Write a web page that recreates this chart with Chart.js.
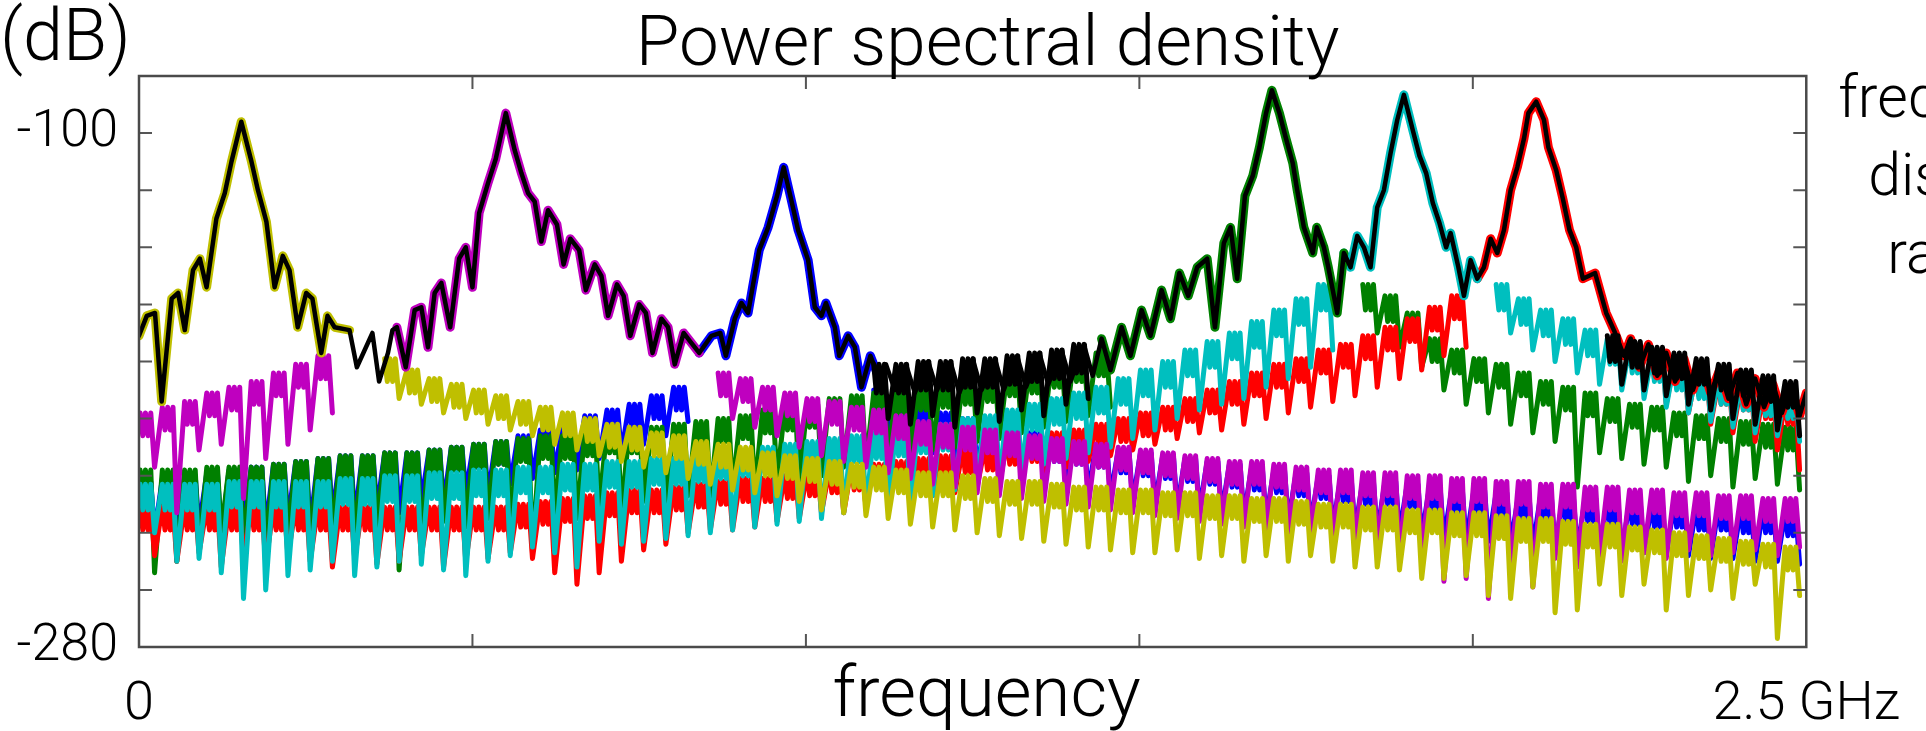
<!DOCTYPE html>
<html><head><meta charset="utf-8">
<script src="https://cdn.jsdelivr.net/npm/chart.js@4.4.1/dist/chart.umd.min.js"></script>
<style>html,body{margin:0;padding:0;background:#fff;overflow:hidden}canvas{display:block}</style>
</head><body>
<canvas id="c" width="1926" height="731"></canvas>
<script>
// ---- axis / labels ----
const X_MIN = 0, X_MAX = 75, X_STEP = 15;          // frequency bins (75 bins = 2.5 GHz)
const Y_MIN = -280, Y_MAX = -80, Y_STEP = 20;      // dB
const xTickText = {0: '0', 75: '2.5 GHz'};
const yTickText = {'-100': '-100', '-280': '-280'};
const titleText = 'Power spectral density';
const unitText = '(dB)';
const xTitleText = 'frequency';
const sideText = ['frequency', 'distance', 'range'];

// ---- peak parts of each channel: [bin, dB] (black total PSD drawn over them) ----
const yellowPeak = [[0.0,-171],[0.35,-164],[0.72,-163],[1.02,-194],[1.47,-158],[1.76,-156],[2.06,-169],[2.43,-148],[2.74,-144],[3.04,-154],[3.48,-130],[3.86,-121],[4.16,-110],[4.6,-96],[5.06,-110],[5.35,-120],[5.73,-131],[6.1,-154],[6.47,-143],[6.77,-148],[7.14,-168],[7.52,-156],[7.8,-158],[8.2,-177],[8.48,-164],[8.8,-168],[9.47,-169]];
const valleyYM = [[9.8,-182],[10.5,-170],[10.8,-187],[11.2,-177],[11.4,-169]];
const magentaPeak = [[11.6,-168],[12.0,-182],[12.4,-162],[12.7,-161],[13.0,-175],[13.3,-156],[13.6,-152.5],[14.0,-168],[14.4,-144],[14.7,-140],[15.0,-154],[15.3,-128],[15.7,-117.5],[16.05,-109],[16.5,-93],[16.9,-106],[17.2,-114],[17.5,-121],[17.8,-124],[18.1,-138],[18.4,-127],[18.8,-132],[19.1,-146],[19.4,-137],[19.8,-141],[20.1,-155],[20.5,-146],[20.8,-150],[21.1,-164],[21.5,-153],[21.8,-157],[22.1,-171],[22.5,-160],[22.8,-163],[23.1,-177],[23.5,-165],[23.8,-168],[24.1,-181],[24.5,-170],[24.8,-173],[25.2,-177]];
const bluePeak = [[25.2,-177],[25.75,-171],[26.15,-170],[26.4,-178],[26.8,-165],[27.1,-159.5],[27.4,-163],[27.6,-154],[27.9,-141],[28.3,-133],[28.7,-122],[29.0,-112],[29.3,-122],[29.65,-134],[30.1,-144.5],[30.4,-161],[30.7,-164],[30.9,-159.5],[31.3,-168],[31.5,-178],[31.9,-171],[32.2,-175],[32.5,-189],[32.9,-178],[33.3,-186]];
const blackMid = [[33.6,-181],[34.0,-190],[34.5,-181],[34.9,-191],[35.5,-180],[35.9,-190],[36.5,-180],[36.9,-191],[37.5,-179],[37.9,-190],[38.5,-179],[38.9,-190],[39.5,-178],[39.9,-189],[40.5,-177],[40.9,-188],[41.5,-176],[41.9,-187],[42.5,-174],[42.9,-185]];
const greenPeak = [[43.3,-172],[43.7,-183],[44.2,-168],[44.6,-178],[45.1,-162],[45.5,-171],[46.0,-155],[46.4,-165],[46.8,-149],[47.2,-157],[47.6,-147],[48.05,-144],[48.4,-168],[48.8,-138.5],[49.1,-133],[49.4,-151],[49.75,-122],[50.1,-115],[50.4,-105],[50.7,-93],[50.96,-85],[51.3,-93],[51.6,-102],[51.9,-110.5],[52.1,-120],[52.4,-133],[52.8,-142],[52.98,-133],[53.3,-140],[53.5,-147],[53.9,-163],[54.2,-142]];
const cyanPeak = [[54.2,-142],[54.5,-147],[54.8,-136],[55.1,-140],[55.4,-147],[55.7,-126],[56.0,-120],[56.3,-107],[56.6,-95.4],[56.9,-86.6],[57.3,-99],[57.6,-108],[57.9,-114],[58.2,-124.5],[58.5,-131.5],[58.8,-140],[59.0,-135],[59.35,-147],[59.6,-157],[59.9,-144.5],[60.2,-151]];
const redPeak = [[60.2,-151],[60.5,-147],[60.8,-137],[61.1,-142],[61.4,-134],[61.7,-120],[62.0,-112],[62.3,-102],[62.5,-93],[62.85,-89],[63.2,-95.4],[63.4,-105],[63.75,-113],[64.05,-123],[64.35,-134],[64.65,-140],[64.95,-151],[65.5,-149],[66.0,-163],[66.4,-170]];
const redTail = [[66.8,-178],[67.1,-172],[67.5,-182],[67.9,-174],[68.3,-185],[68.7,-177],[69.1,-187],[69.5,-179],[69.9,-190],[70.3,-181],[70.7,-191],[71.1,-183],[71.5,-193],[71.9,-184],[72.3,-195],[72.7,-186],[73.1,-196],[73.5,-188],[73.9,-198],[74.3,-189],[74.7,-199],[75.0,-191]];

// ---- sidelobe bands, per bin: top level, lower edge of the band, null depth (dB); null = covered by peak part ----
const N11 = [null,null,null,null,null,null,null,null,null,null,null];
const yellowTop = [...N11,
-179,-183,-186,-188,-190,-192,-194,-196,-198,-200,
-202,-203,-205,-206,-208,-209,-210,-212,-213,-214,
-215,-216,-217,-218,-219,-219,-220,-221,-222,-222,
-223,-224,-224,-225,-225,-226,-226,-227,-227,-228,
-228,-229,-230,-230,-231,-231,-232,-232,-233,-233,
-234,-235,-235,-236,-237,-237,-238,-239,-240,-241,
-242,-243,-244,-245];
const yellowLow = [...N11,
-187,-191,-194,-196,-198,-200,-202,-204,-206,-208,
-210,-211,-213,-214,-216,-217,-218,-220,-221,-222,
-223,-224,-225,-226,-227,-227,-228,-229,-230,-230,
-231,-232,-232,-233,-233,-234,-234,-235,-235,-236,
-236,-237,-238,-238,-239,-239,-240,-240,-241,-241,
-242,-243,-243,-244,-245,-245,-246,-247,-248,-249,
-250,-251,-252,-253];
const yellowDip = [...N11,
-193,-195,-198,-200,-202,-204,-206,-209,-211,-213,
-215,-217,-219,-221,-223,-225,-226,-227,-229,-232,
-233,-234,-235,-237,-238,-239,-240,-241,-242,-243,
-244,-245,-246,-247,-247,-246,-249,-248,-250,-248,
-250,-248,-250,-252,-252,-253,-256,-256,-255,-262,
-263,-259,-268,-267,-258,-262,-258,-267,-262,-260,
-263,-258,-277,-262];
const N17 = [null,null,null,null,null,null,null,null,null,null,null,null,null,null,null,null,null];
const magentaTop = [-198,-196,-194,-191,-189,-187,-184,-181,-178, ...N17,
-184,-186,-189,-191,-193,-194,-196,-197,-199,-201,
-202,-203,-204,-205,-206,-207,-208,-209,-210,-211,
-212,-213,-214,-215,-215,-216,-217,-218,-218,-219,
-219,-220,-220,-221,-221,-222,-222,-223,-223,-224,
-224,-225,-225,-226,-226,-227,-227,-228,-228];
const magentaLow = [-206,-204,-202,-199,-197,-195,-192,-189,-186, ...N17,
-192,-194,-197,-199,-201,-202,-204,-205,-207,-209,
-210,-211,-212,-213,-214,-215,-216,-217,-218,-219,
-220,-221,-222,-223,-223,-224,-225,-226,-226,-227,
-227,-228,-228,-229,-229,-230,-230,-231,-231,-232,
-232,-233,-233,-234,-234,-235,-235,-236,-236];
const magentaDip = [-217,-233,-211,-209,-228,-214,-209,-204,-198, ...N17,
-200,-203,-206,-210,-213,-215,-217,-219,-221,-223,
-224,-226,-227,-228,-229,-230,-231,-232,-233,-234,
-235,-236,-237,-238,-239,-240,-241,-243,-245,-246,
-249,-250,-257,-256,-263,-255,-259,-249,-252,-248,
-250,-247,-249,-246,-248,-247,-246,-248,-245];
const N8 = [null,null,null,null,null,null,null,null];
const blueTop = [-222,-221,-220,-219,-218,-217,-216,-215,-214,-213,
-213,-212,-212,-211,-210,-209,-208,-206,-204,-202,
-199,-197,-195,-192,-189, ...N8,
-190,-193,-196,-198,-200,-202,-204,
-205,-207,-208,-209,-211,-212,-213,-214,-215,-216,
-217,-218,-219,-220,-221,-222,-222,-223,-224,-225,
-225,-226,-227,-227,-228,-228,-229,-229,-230,-230,
-231,-231,-232,-232,-233];
const blueLow = [-230,-229,-228,-227,-226,-225,-224,-223,-222,-221,
-221,-220,-220,-219,-218,-217,-216,-214,-212,-210,
-207,-205,-203,-200,-197, ...N8,
-198,-201,-204,-206,-208,-210,-212,
-213,-215,-216,-217,-219,-220,-221,-222,-223,-224,
-225,-226,-227,-228,-229,-230,-230,-231,-232,-233,
-233,-234,-235,-235,-236,-236,-237,-237,-238,-238,
-239,-239,-240,-240,-241];
const blueDip = [-240,-242,-238,-241,-237,-239,-236,-238,-234,-235,
-232,-233,-229,-230,-226,-227,-223,-221,-219,-218,
-214,-212,-209,-206,-201, ...N8,
-205,-209,-212,-215,-217,-219,-221,
-223,-224,-226,-227,-229,-230,-231,-232,-233,-234,
-235,-236,-237,-238,-239,-240,-240,-241,-242,-243,
-243,-244,-245,-245,-246,-246,-247,-247,-248,-248,
-249,-249,-250,-250,-251];
const greenTop = [-218,-218,-218,-217,-217,-217,-216,-215,-214,-213,
-213,-212,-212,-211,-210,-209,-208,-207,-206,-206,
-205,-204,-204,-203,-202,-201,-200,-199,-197,-196,
-195,-193,-192,-191,-190,-189,-188,-187,-186,-184,
-183,-181,-179,-177, ...N11,
-153,-157,-163,-172,-176,-179,-181,-184,-187,-189,
-191,-193,-195,-196,-198,-199,-200,-201,-202,-203];
const greenLow = [-226,-226,-226,-225,-225,-225,-224,-223,-222,-221,
-221,-220,-220,-219,-218,-217,-216,-215,-214,-214,
-213,-212,-212,-211,-210,-209,-208,-207,-205,-204,
-203,-201,-200,-199,-198,-197,-196,-195,-194,-192,
-191,-189,-187,-185, ...N11,
-162,-166,-172,-180,-184,-187,-189,-192,-195,-197,
-199,-201,-203,-204,-206,-207,-208,-209,-210,-211];
const greenDip = [-254,-250,-246,-240,-243,-245,-241,-244,-240,-242,
-238,-253,-242,-236,-238,-235,-237,-247,-233,-235,
-231,-233,-229,-231,-227,-228,-225,-226,-222,-223,
-220,-217,-216,-214,-213,-211,-210,-208,-207,-205,
-203,-201,-199,-196, ...N11,
-170,-175,-182,-190,-195,-198,-202,-205,-208,-224,
-212,-214,-216,-217,-222,-220,-224,-221,-223,-225];
const N7 = [null,null,null,null,null,null,null];
const cyanTop = [-223,-223,-223,-223,-222,-222,-222,-222,-222,-221,
-221,-220,-220,-219,-219,-218,-218,-217,-217,-216,
-216,-215,-215,-214,-214,-213,-212,-211,-210,-209,
-208,-207,-206,-205,-204,-203,-202,-200,-199,-197,
-195,-193,-191,-189,-186,-183,-180,-176,-173,-170,
-166,-162,-158,-153, ...N7,
-153,-158,-162,-165,-169,-172,-175,-178,-181,-184,-186,-188,-190,-191];
const cyanLow = [-232,-232,-232,-232,-231,-231,-231,-231,-231,-230,
-230,-229,-229,-228,-228,-227,-227,-226,-226,-225,
-225,-224,-224,-223,-223,-222,-221,-220,-219,-218,
-217,-216,-215,-214,-213,-212,-211,-209,-208,-206,
-204,-202,-200,-198,-195,-192,-189,-185,-182,-179,
-175,-171,-167,-162, ...N7,
-162,-167,-171,-174,-178,-181,-184,-187,-190,-193,-195,-197,-199,-200];
const cyanDip = [-240,-250,-249,-254,-263,-260,-255,-253,-250,-255,
-252,-250,-251,-253,-255,-250,-248,-245,-247,-252,
-243,-244,-243,-242,-241,-240,-239,-238,-237,-236,
-235,-233,-232,-230,-229,-227,-225,-223,-221,-219,
-216,-214,-212,-210,-207,-204,-200,-197,-195,-193,
-189,-186,-182,-176, ...N7,
-170,-176,-180,-184,-188,-190,-193,-196,-198,-201,-203,-205,-206,-208];
const redTop = [-231,-231,-231,-231,-231,-231,-231,-231,-231,-231,
-231,-231,-231,-231,-231,-231,-231,-230,-229,-228,
-227,-226,-225,-225,-224,-223,-222,-221,-221,-220,
-219,-218,-217,-216,-215,-214,-213,-211,-210,-208,
-207,-205,-204,-202,-200,-198,-196,-193,-190,-187,
-184,-181,-179,-176,-174,-171,-168,-165,-161,-157, ...N7,
-174,-178,-181,-184,-187,-189,-192,-194];
const redLow = [-239,-239,-239,-239,-239,-239,-239,-239,-239,-239,
-239,-239,-239,-239,-239,-239,-239,-238,-237,-236,
-235,-234,-233,-233,-232,-231,-230,-229,-229,-228,
-227,-226,-225,-224,-223,-222,-221,-219,-218,-216,
-215,-213,-212,-210,-208,-206,-204,-201,-198,-195,
-192,-189,-187,-184,-182,-179,-176,-173,-169,-165, ...N7,
-182,-186,-189,-192,-195,-197,-200,-202];
const redDip = [-248,-250,-247,-252,-249,-251,-248,-250,-252,-249,
-251,-250,-248,-252,-250,-249,-247,-249,-254,-258,
-254,-250,-246,-244,-240,-239,-239,-238,-236,-235,
-233,-233,-231,-230,-229,-227,-226,-224,-223,-221,
-219,-217,-215,-213,-211,-209,-207,-205,-204,-202,
-200,-198,-196,-194,-192,-189,-186,-183,-178,-175, ...N7,
-190,-195,-198,-202,-205,-208,-211,-218];
// dense black (total PSD) ripple regions: bins 33-42 and 66-74
const N33 = Array(33).fill(null), N23 = Array(23).fill(null);
const blackTop = [...N33, -181,-181,-180,-180,-179,-179,-178,-177,-176,-174, ...N23, -171,-173,-175,-177,-179,-181,-183,-185,-187];
const blackLow = [...N33, -191,-191,-190,-190,-189,-189,-188,-187,-186,-184, ...N23, -180,-182,-184,-186,-188,-190,-192,-194,-196];
const blackDip = [...N33, -200,-202,-199,-203,-198,-201,-197,-199,-195,-193, ...N23, -188,-190,-192,-195,-197,-200,-202,-204,-206];

// ---- colours ----
const C = {y:'#bfbf00', m:'#bf00bf', b:'#0000ff', g:'#008000', c:'#00bfbf', r:'#ff0000', k:'#000000'};
const FONT = 'Roboto';

// ---- build datasets ----
const pairs = arr => arr.map(p => ({x: p[0], y: p[1]}));
function band(tops, lows, dips) {
  const pts = [];
  tops.forEach((t, i) => {
    if (t === null) { pts.push({x: i + 0.5, y: null}); return; }
    const l = lows[i];
    pts.push({x: i + 0.05, y: t}, {x: i + 0.17, y: l}, {x: i + 0.29, y: t},
             {x: i + 0.41, y: l}, {x: i + 0.53, y: t}, {x: i + 0.7, y: dips[i]});
  });
  return pts;
}
const common = {pointRadius: 0, tension: 0, fill: false, spanGaps: false, borderJoinStyle: 'round', borderCapStyle: 'round'};
const BW = 5, PW = 9, KW = 4.5;
const datasets = [
  {...common, data: pairs([...yellowPeak, ...valleyYM, ...magentaPeak, ...bluePeak.slice(1), ...blackMid, ...greenPeak, ...cyanPeak.slice(1), ...redPeak.slice(1), ...redTail]), borderColor: C.k, borderWidth: KW, order: 0},
  {...common, data: band(blackTop, blackLow, blackDip), borderColor: C.k, borderWidth: BW, order: 0.5},
  {...common, data: pairs(yellowPeak), borderColor: C.y, borderWidth: PW, order: 1},
  {...common, data: pairs(magentaPeak), borderColor: C.m, borderWidth: PW, order: 1},
  {...common, data: pairs(bluePeak), borderColor: C.b, borderWidth: PW, order: 1},
  {...common, data: pairs(greenPeak), borderColor: C.g, borderWidth: PW, order: 1},
  {...common, data: pairs(cyanPeak), borderColor: C.c, borderWidth: PW, order: 1},
  {...common, data: pairs([...redPeak, ...redTail]), borderColor: C.r, borderWidth: PW, order: 1},
  {...common, data: band(yellowTop, yellowLow, yellowDip), borderColor: C.y, borderWidth: BW, order: 2},
  {...common, data: band(magentaTop, magentaLow, magentaDip), borderColor: C.m, borderWidth: BW, order: 3},
  {...common, data: band(cyanTop, cyanLow, cyanDip), borderColor: C.c, borderWidth: BW, order: 4},
  {...common, data: band(redTop, redLow, redDip), borderColor: C.r, borderWidth: BW, order: 5},
  {...common, data: band(greenTop, greenLow, greenDip), borderColor: C.g, borderWidth: BW, order: 6},
  {...common, data: band(blueTop, blueLow, blueDip), borderColor: C.b, borderWidth: BW, order: 7}
];

const decor = {
  id: 'decor',
  afterDatasetsDraw(chart) {
    const {ctx, chartArea: a} = chart;
    const xs = chart.scales.x, ys = chart.scales.y;
    const L = 13;
    ctx.save();
    ctx.strokeStyle = '#555'; ctx.lineWidth = 2;
    ctx.beginPath();
    xs.ticks.forEach(t => {
      const p = xs.getPixelForValue(t.value);
      if (p <= a.left + 1 || p >= a.right - 1) return;
      ctx.moveTo(p, a.bottom); ctx.lineTo(p, a.bottom - L);
      ctx.moveTo(p, a.top); ctx.lineTo(p, a.top + L);
    });
    ys.ticks.forEach(t => {
      const p = ys.getPixelForValue(t.value);
      if (p <= a.top + 1 || p >= a.bottom - 1) return;
      ctx.moveTo(a.left, p); ctx.lineTo(a.left + L, p);
      ctx.moveTo(a.right, p); ctx.lineTo(a.right - L, p);
    });
    ctx.stroke();
    ctx.strokeStyle = '#4a4a4a'; ctx.lineWidth = 2.5;
    ctx.strokeRect(a.left, a.top, a.right - a.left, a.bottom - a.top);
    ctx.restore();
  },
  afterDraw(chart) {
    const {ctx, chartArea: a} = chart;
    ctx.save();
    ctx.fillStyle = '#000';
    ctx.textBaseline = 'alphabetic';
    ctx.font = `300 72px ${FONT}`;
    ctx.textAlign = 'left';
    ctx.fillText(unitText, 0, 60);
    ctx.font = `300 71px ${FONT}`;
    ctx.textAlign = 'center';
    ctx.fillText(titleText, (a.left + a.right) / 2 + 15, 65);
    ctx.fillText(xTitleText, (a.left + a.right) / 2 + 14, 716);
    ctx.font = `300 59px ${FONT}`;
    ctx.textAlign = 'left';
    const sx = [a.right + 32, a.right + 62, a.right + 81];
    sideText.forEach((s, i) => ctx.fillText(s, sx[i], 117 + 78 * i));
    ctx.restore();
  }
};

new Chart(document.getElementById('c'), {
  type: 'line',
  data: {datasets},
  options: {
    responsive: false, animation: false, events: [],
    layout: {padding: {top: 76, right: 115, left: 0, bottom: 0}},
    plugins: {legend: {display: false}, tooltip: {enabled: false}, title: {display: false}},
    scales: {
      x: {type: 'linear', min: X_MIN, max: X_MAX,
          grid: {display: false, drawTicks: false}, border: {display: false},
          ticks: {stepSize: X_STEP, autoSkip: false, maxRotation: 0, color: '#000', padding: 26,
                  font: {family: FONT, size: 54, weight: '300'},
                  callback: v => xTickText[v] || ''},
          afterFit: s => { s.height = 84; }},
      y: {type: 'linear', min: Y_MIN, max: Y_MAX,
          grid: {display: false, drawTicks: false}, border: {display: false},
          ticks: {stepSize: Y_STEP, autoSkip: false, color: '#000', padding: 21,
                  font: {family: FONT, size: 52, weight: '300'},
                  callback: v => yTickText[String(v)] || ''},
          afterFit: s => { s.width = 139; }}
    }
  },
  plugins: [decor]
});
</script>
</body></html>
